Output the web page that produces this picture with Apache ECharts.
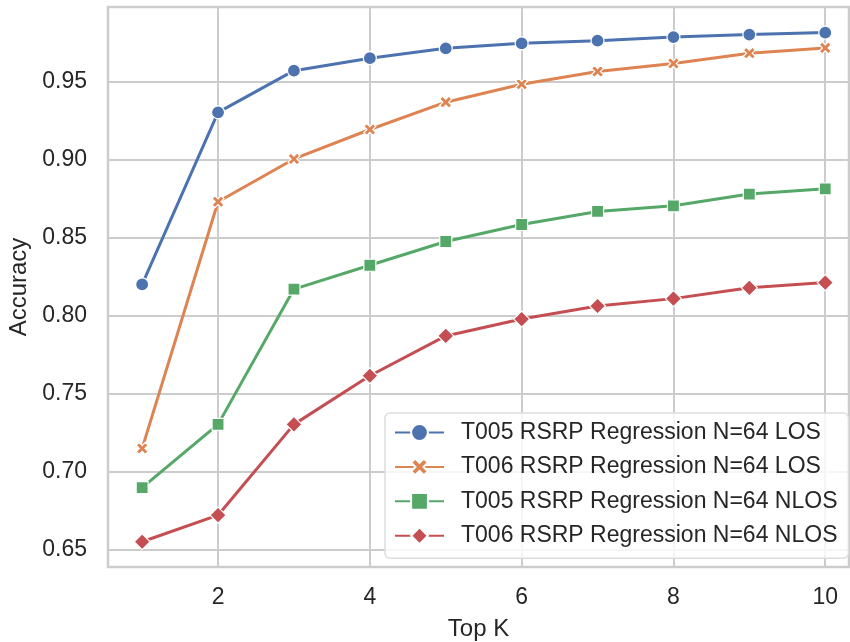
<!DOCTYPE html>
<html>
<head>
<meta charset="utf-8">
<script src="https://cdn.jsdelivr.net/npm/echarts@6/dist/echarts.min.js"></script>
<style>
  html, body { margin: 0; padding: 0; background: #ffffff; }
  #chart { width: 850px; height: 642px; }
</style>
</head>
<body>
<div id="chart"></div>
<script>
// Top-K accuracy for each model / propagation condition
const topK = [1, 2, 3, 4, 5, 6, 7, 8, 9, 10];
const t005Los  = [0.8202, 0.9305, 0.9572, 0.9652, 0.9715, 0.9747, 0.9764, 0.9787, 0.9803, 0.9816];
const t006Los  = [0.7151, 0.8732, 0.9006, 0.9195, 0.9370, 0.9485, 0.9567, 0.9618, 0.9684, 0.9718];
const t005Nlos = [0.6900, 0.7305, 0.8172, 0.8325, 0.8477, 0.8586, 0.8670, 0.8706, 0.8781, 0.8815];
const t006Nlos = [0.6553, 0.6723, 0.7305, 0.7617, 0.7872, 0.7980, 0.8064, 0.8111, 0.8180, 0.8214];

const seriesNames = [
  'T005 RSRP Regression N=64 LOS',
  'T006 RSRP Regression N=64 LOS',
  'T005 RSRP Regression N=64 NLOS',
  'T006 RSRP Regression N=64 NLOS'
];
const xTicks = [2, 4, 6, 8, 10];
const yTicks = [0.65, 0.70, 0.75, 0.80, 0.85, 0.90, 0.95];

const colors = ['#4C72B0', '#DD8452', '#55A868', '#C44E52'];
const FONT = "'Liberation Sans', Arial, sans-serif";
const TEXT = '#262626';
const GRID = '#cccccc';

const xMark = 'path://M0,2.4 L2.4,0 L5,2.6 L7.6,0 L10,2.4 L7.4,5 L10,7.6 L7.6,10 L5,7.4 L2.4,10 L0,7.6 L2.6,5 Z';
const symbols = ['circle', xMark, 'rect', 'diamond'];
const symbolSizes = [13, 12, 12, 16];
const values = [t005Los, t006Los, t005Nlos, t006Nlos];

const chart = echarts.init(document.getElementById('chart'), null, { renderer: 'canvas' });

const series = values.map((vals, i) => ({
  name: seriesNames[i],
  type: 'line',
  data: topK.map((k, j) => [k, vals[j]]),
  symbol: symbols[i],
  symbolSize: symbolSizes[i],
  showAllSymbol: true,
  lineStyle: { color: colors[i], width: 3 },
  itemStyle: { color: colors[i], borderColor: '#ffffff', borderWidth: 1.2 },
  emphasis: { disabled: true },
  z: 3 + i,
  animation: false
}));

chart.setOption({
  backgroundColor: '#ffffff',
  animation: false,
  color: colors,
  grid: {
    left: 108, top: 7, right: 1, bottom: 75,
    outerBoundsMode: 'none',
    containLabel: false,
    show: true, borderColor: GRID, borderWidth: 2.5, backgroundColor: 'transparent'
  },
  xAxis: {
    type: 'value',
    min: 0.55, max: 10.313,
    name: 'Top K',
    nameLocation: 'middle',
    nameGap: 50,
    nameTextStyle: { fontFamily: FONT, fontSize: 24, color: TEXT },
    axisLine: { show: false },
    axisTick: { show: false, customValues: xTicks },
    axisLabel: {
      customValues: xTicks,
      margin: 19,
      fontFamily: FONT, fontSize: 23, color: TEXT
    },
    splitLine: { show: true, lineStyle: { color: GRID, width: 2 } }
  },
  yAxis: {
    type: 'value',
    min: 0.6391, max: 0.998,
    name: 'Accuracy',
    nameLocation: 'middle',
    nameRotate: 90,
    nameGap: 76,
    nameTextStyle: { fontFamily: FONT, fontSize: 24, color: TEXT },
    axisLine: { show: false },
    axisTick: { show: false, customValues: yTicks },
    axisLabel: {
      customValues: yTicks,
      margin: 21,
      formatter: v => v.toFixed(2),
      fontFamily: FONT, fontSize: 23, color: TEXT
    },
    splitLine: { show: true, lineStyle: { color: GRID, width: 2 } }
  },
  legend: {
    orient: 'vertical',
    left: 385, top: 413,
    padding: [8, 11, 11, 9],
    itemWidth: 49,
    itemHeight: 21,
    itemGap: 11.4,
    backgroundColor: 'rgba(255,255,255,0.8)',
    borderColor: '#dddddd',
    borderWidth: 1.5,
    borderRadius: 5,
    textStyle: { fontFamily: FONT, fontSize: 23, color: TEXT, padding: [0, 0, 0, 12] },
    selectedMode: false,
    data: seriesNames
  },
  series: series
});
</script>
</body>
</html>
